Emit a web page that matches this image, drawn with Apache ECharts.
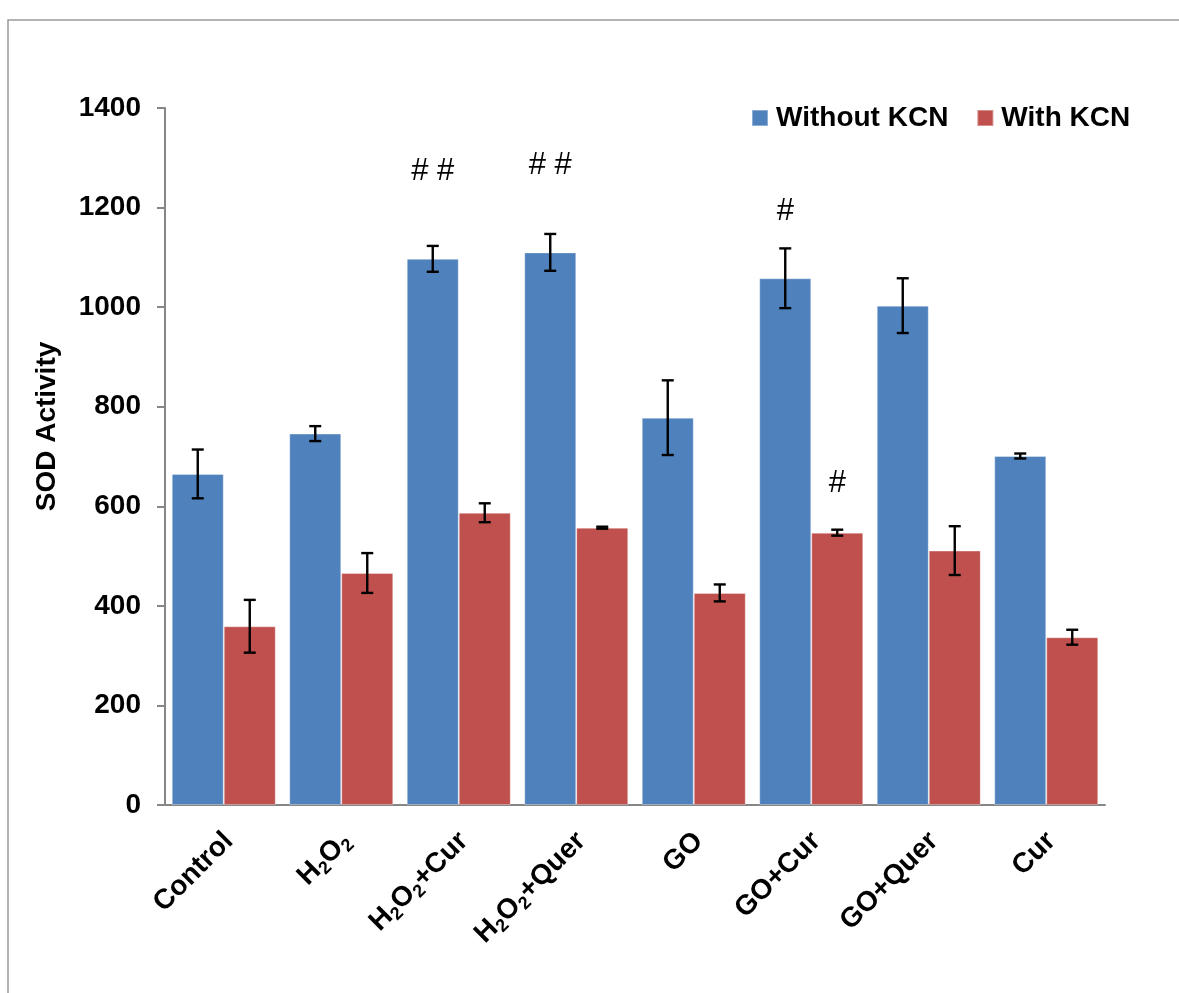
<!DOCTYPE html>
<html>
<head>
<meta charset="utf-8">
<script src="https://cdn.jsdelivr.net/npm/echarts@6/dist/echarts.min.js"></script>
<style>
html,body{margin:0;padding:0;background:#fff;}
#chart{width:1179px;height:993px;}
</style>
</head>
<body>
<div id="chart"></div>
<script>
// ---- data ----
var categories = ['Control', 'H2O2', 'H2O2+Cur', 'H2O2+Quer', 'GO', 'GO+Cur', 'GO+Quer', 'Cur'];
var seriesNames = ['Without KCN', 'With KCN'];
var withoutKCN = [665, 746, 1097, 1110, 778, 1058, 1003, 701];
var withoutKCNErr = [49, 15, 26, 37, 75, 60, 55, 5];
var withKCN = [359, 466, 587, 557, 426, 547, 511, 337];
var withKCNErr = [53, 40, 19, 2, 17, 6, 49, 15];
var withoutMarks = ['', '', '# #', '# #', '', '#', '', ''];
var withoutMarkLevel = [0, 0, 1273, 1284, 0, 1192, 0, 0];
var withMarks = ['', '', '', '', '', '#', '', ''];
var withMarkLevel = [0, 0, 0, 0, 0, 645, 0, 0];
var yTicks = [0, 200, 400, 600, 800, 1000, 1200, 1400];

// ---- style ----
var FONT = "'Liberation Sans', Arial, sans-serif";
var BLUE = '#4F81BD', RED = '#C0504D';
var BAR_W = 52;

function errData(vals, errs) {
  return vals.map(function (v, i) { return [i, v - errs[i], v + errs[i]]; });
}
function markData(marks, levels) {
  var out = [];
  marks.forEach(function (m, i) { if (m) out.push([i, levels[i], m]); });
  return out;
}
function errRender(side) {
  return function (params, api) {
    var i = api.value(0);
    var lo = api.coord([i, api.value(1)]);
    var hi = api.coord([i, api.value(2)]);
    var x = lo[0] + side * BAR_W / 2;
    var cap = 6;
    var st = { stroke: '#000', lineWidth: 2.4 };
    return {
      type: 'group',
      children: [
        { type: 'line', shape: { x1: x, y1: lo[1], x2: x, y2: hi[1] }, style: st },
        { type: 'line', shape: { x1: x - cap, y1: lo[1], x2: x + cap, y2: lo[1] }, style: st },
        { type: 'line', shape: { x1: x - cap, y1: hi[1], x2: x + cap, y2: hi[1] }, style: st }
      ]
    };
  };
}
function textMark(side, list) {
  return {
    type: 'custom',
    z: 5,
    silent: true,
    data: list,
    renderItem: function (params, api) {
      var item = list[params.dataIndex];
      var p = api.coord([item[0], item[1]]);
      return {
        type: 'text',
        style: {
          x: p[0] + side * BAR_W / 2, y: p[1],
          text: item[2],
          align: 'center', verticalAlign: 'middle',
          font: '31px ' + FONT, fill: '#000'
        }
      };
    }
  };
}

var chart = echarts.init(document.getElementById('chart'), null, { renderer: 'canvas' });

var option = {
  backgroundColor: '#fff',
  animation: false,
  textStyle: { fontFamily: FONT },
  grid: { left: 165, right: 74, top: 108, bottom: 188, containLabel: false },
  legend: {
    data: seriesNames,
    left: 746, top: 99,
    icon: 'rect', itemWidth: 16, itemHeight: 16, itemGap: 28,
    textStyle: { fontSize: 28, fontWeight: 'bold', color: '#000', fontFamily: FONT, padding: [0, 0, 0, 3] }
  },
  xAxis: {
    type: 'category',
    data: categories,
    axisLine: { lineStyle: { color: '#868686', width: 2 } },
    axisTick: { show: false },
    axisLabel: {
      interval: 0, rotate: 45, margin: 27,
      padding: [14, 0, 0, 0],
      formatter: function (v) {
        return v.split(/(2)/).map(function (s) {
          if (s === '') return '';
          return s === '2' ? '{s|2}' : '{b|' + s + '}';
        }).join('');
      },
      rich: {
        b: { fontSize: 28, fontWeight: 'bold', color: '#000', fontFamily: FONT, lineHeight: 33 },
        s: { fontSize: 18, fontWeight: 'bold', color: '#000', fontFamily: FONT, lineHeight: 33, verticalAlign: 'bottom' }
      }
    }
  },
  yAxis: {
    type: 'value',
    min: 0, max: 1400, interval: 200,
    name: 'SOD Activity',
    nameLocation: 'middle',
    nameGap: 104,
    nameTextStyle: { fontSize: 28, fontWeight: 'bold', color: '#000', fontFamily: FONT, padding: [0, 0, 0, 60] },
    axisLine: { show: true, lineStyle: { color: '#868686', width: 2 } },
    axisTick: { show: true, length: 8, lineStyle: { color: '#868686', width: 2 } },
    splitLine: { show: false },
    axisLabel: {
      margin: 24, fontSize: 28, fontWeight: 'bold', color: '#000', fontFamily: FONT,
      formatter: function (v) { return yTicks.indexOf(v) >= 0 ? String(v) : ''; }
    }
  },
  graphic: [{
    type: 'rect', silent: true, z: -10,
    shape: { x: 8, y: 20, width: 1300, height: 1100 },
    style: { fill: 'none', stroke: '#9a9a9a', lineWidth: 1.5 }
  }],
  series: [
    {
      name: seriesNames[0], type: 'bar', data: withoutKCN, barWidth: BAR_W, barGap: '0%',
      itemStyle: { color: BLUE, borderColor: 'rgba(255,255,255,0.35)', borderWidth: 1 }
    },
    {
      name: seriesNames[1], type: 'bar', data: withKCN, barWidth: BAR_W, barGap: '0%',
      itemStyle: { color: RED, borderColor: 'rgba(255,255,255,0.35)', borderWidth: 1 }
    },
    { type: 'custom', z: 4, silent: true, data: errData(withoutKCN, withoutKCNErr), renderItem: errRender(-1) },
    { type: 'custom', z: 4, silent: true, data: errData(withKCN, withKCNErr), renderItem: errRender(1) },
    textMark(-1, markData(withoutMarks, withoutMarkLevel)),
    textMark(1, markData(withMarks, withMarkLevel))
  ]
};
chart.setOption(option);
</script>
</body>
</html>
